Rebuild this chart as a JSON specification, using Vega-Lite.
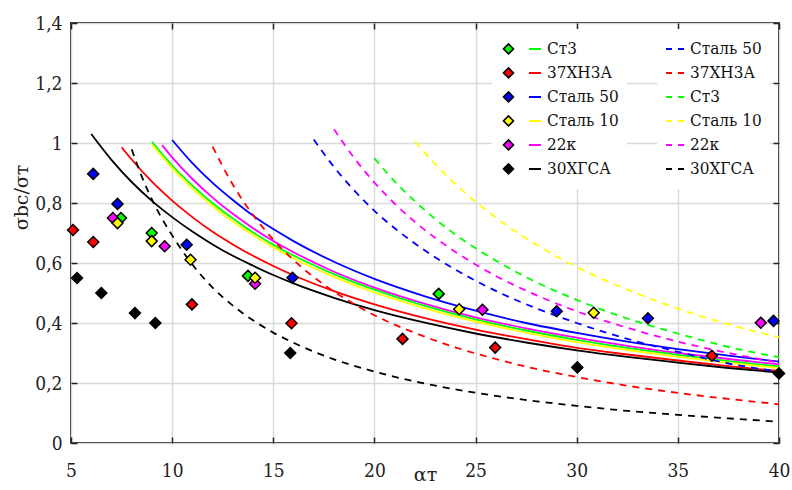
{
  "$schema": "https://vega.github.io/schema/vega-lite/v6.json",
  "width": 708,
  "height": 420,
  "autosize": {"type": "none"},
  "padding": {"left": 71, "top": 23, "right": 13, "bottom": 47},
  "background": "white",
  "config": {
    "font": "DejaVu Serif",
    "view": {"stroke": "#222222", "strokeWidth": 2},
    "axis": {
      "labelFont": "DejaVu Serif Condensed, DejaVu Serif", "labelFontSize": 19, "labelColor": "#222222",
      "titleFont": "DejaVu Serif", "titleFontSize": 19, "titleFontWeight": "normal", "titleColor": "#222222",
      "gridColor": "#dadada", "gridWidth": 1.5, "domain": false,
      "tickColor": "#222222", "tickWidth": 1.5, "labelFlush": false, "labelOverlap": false
    },
    "legend": {
      "labelFont": "DejaVu Serif Condensed, DejaVu Serif", "labelFontSize": 17, "labelColor": "#111111",
      "clipHeight": 23.8, "rowPadding": 0, "padding": 8, "fillColor": "white", "title": null
    }
  },
  "datasets": {
    "pts": [
      {"m": "Ст3", "a": 7.47, "s": 0.75}, {"m": "Ст3", "a": 8.99, "s": 0.70}, {"m": "Ст3", "a": 13.75, "s": 0.557}, {"m": "Ст3", "a": 23.18, "s": 0.497},
      {"m": "37ХН3А", "a": 5.1, "s": 0.71}, {"m": "37ХН3А", "a": 6.1, "s": 0.67}, {"m": "37ХН3А", "a": 10.98, "s": 0.462}, {"m": "37ХН3А", "a": 15.9, "s": 0.399}, {"m": "37ХН3А", "a": 21.39, "s": 0.347}, {"m": "37ХН3А", "a": 25.97, "s": 0.318}, {"m": "37ХН3А", "a": 36.68, "s": 0.291},
      {"m": "Сталь 50", "a": 6.1, "s": 0.897}, {"m": "Сталь 50", "a": 7.3, "s": 0.797}, {"m": "Сталь 50", "a": 10.72, "s": 0.661}, {"m": "Сталь 50", "a": 15.95, "s": 0.551}, {"m": "Сталь 50", "a": 29.01, "s": 0.439}, {"m": "Сталь 50", "a": 33.52, "s": 0.416}, {"m": "Сталь 50", "a": 39.73, "s": 0.407},
      {"m": "22к", "a": 7.07, "s": 0.75}, {"m": "22к", "a": 9.63, "s": 0.656}, {"m": "22к", "a": 14.1, "s": 0.531}, {"m": "22к", "a": 25.34, "s": 0.444}, {"m": "22к", "a": 39.1, "s": 0.401},
      {"m": "Сталь 10", "a": 7.3, "s": 0.733}, {"m": "Сталь 10", "a": 8.99, "s": 0.673}, {"m": "Сталь 10", "a": 10.91, "s": 0.611}, {"m": "Сталь 10", "a": 14.1, "s": 0.551}, {"m": "Сталь 10", "a": 24.19, "s": 0.446}, {"m": "Сталь 10", "a": 30.84, "s": 0.434},
      {"m": "30ХГСА", "a": 5.3, "s": 0.55}, {"m": "30ХГСА", "a": 6.5, "s": 0.5}, {"m": "30ХГСА", "a": 8.16, "s": 0.433}, {"m": "30ХГСА", "a": 9.17, "s": 0.4}, {"m": "30ХГСА", "a": 15.84, "s": 0.3}, {"m": "30ХГСА", "a": 30.03, "s": 0.252}, {"m": "30ХГСА", "a": 40.0, "s": 0.232}
    ],
    "sol": [
      {"c": "Сталь 50", "a": 10, "s": 1.01}, {"c": "Сталь 50", "a": 11, "s": 0.933}, {"c": "Сталь 50", "a": 12, "s": 0.867}, {"c": "Сталь 50", "a": 13, "s": 0.81}, {"c": "Сталь 50", "a": 14, "s": 0.758}, {"c": "Сталь 50", "a": 15, "s": 0.713}, {"c": "Сталь 50", "a": 16, "s": 0.673}, {"c": "Сталь 50", "a": 18, "s": 0.604}, {"c": "Сталь 50", "a": 20, "s": 0.547}, {"c": "Сталь 50", "a": 22.5, "s": 0.489}, {"c": "Сталь 50", "a": 25, "s": 0.441}, {"c": "Сталь 50", "a": 27.5, "s": 0.4}, {"c": "Сталь 50", "a": 30, "s": 0.367}, {"c": "Сталь 50", "a": 32.5, "s": 0.338}, {"c": "Сталь 50", "a": 35, "s": 0.313}, {"c": "Сталь 50", "a": 37.5, "s": 0.291}, {"c": "Сталь 50", "a": 40, "s": 0.271},
      {"c": "22к", "a": 9.5, "s": 0.993}, {"c": "22к", "a": 10, "s": 0.952}, {"c": "22к", "a": 11, "s": 0.88}, {"c": "22к", "a": 12, "s": 0.818}, {"c": "22к", "a": 13, "s": 0.764}, {"c": "22к", "a": 14, "s": 0.716}, {"c": "22к", "a": 15, "s": 0.673}, {"c": "22к", "a": 16, "s": 0.636}, {"c": "22к", "a": 18, "s": 0.571}, {"c": "22к", "a": 20, "s": 0.518}, {"c": "22к", "a": 22.5, "s": 0.464}, {"c": "22к", "a": 25, "s": 0.419}, {"c": "22к", "a": 27.5, "s": 0.382}, {"c": "22к", "a": 30, "s": 0.351}, {"c": "22к", "a": 32.5, "s": 0.324}, {"c": "22к", "a": 35, "s": 0.3}, {"c": "22к", "a": 37.5, "s": 0.28}, {"c": "22к", "a": 40, "s": 0.262},
      {"c": "Ст3", "a": 9, "s": 1.004}, {"c": "Ст3", "a": 10, "s": 0.925}, {"c": "Ст3", "a": 11, "s": 0.858}, {"c": "Ст3", "a": 12, "s": 0.799}, {"c": "Ст3", "a": 13, "s": 0.748}, {"c": "Ст3", "a": 14, "s": 0.702}, {"c": "Ст3", "a": 15, "s": 0.661}, {"c": "Ст3", "a": 16, "s": 0.625}, {"c": "Ст3", "a": 18, "s": 0.563}, {"c": "Ст3", "a": 20, "s": 0.511}, {"c": "Ст3", "a": 22.5, "s": 0.457}, {"c": "Ст3", "a": 25, "s": 0.412}, {"c": "Ст3", "a": 27.5, "s": 0.375}, {"c": "Ст3", "a": 30, "s": 0.344}, {"c": "Ст3", "a": 32.5, "s": 0.317}, {"c": "Ст3", "a": 35, "s": 0.294}, {"c": "Ст3", "a": 37.5, "s": 0.273}, {"c": "Ст3", "a": 40, "s": 0.255},
      {"c": "Сталь 10", "a": 9, "s": 0.995}, {"c": "Сталь 10", "a": 10, "s": 0.916}, {"c": "Сталь 10", "a": 11, "s": 0.848}, {"c": "Сталь 10", "a": 12, "s": 0.79}, {"c": "Сталь 10", "a": 13, "s": 0.738}, {"c": "Сталь 10", "a": 14, "s": 0.693}, {"c": "Сталь 10", "a": 15, "s": 0.652}, {"c": "Сталь 10", "a": 16, "s": 0.616}, {"c": "Сталь 10", "a": 18, "s": 0.554}, {"c": "Сталь 10", "a": 20, "s": 0.502}, {"c": "Сталь 10", "a": 22.5, "s": 0.449}, {"c": "Сталь 10", "a": 25, "s": 0.405}, {"c": "Сталь 10", "a": 27.5, "s": 0.368}, {"c": "Сталь 10", "a": 30, "s": 0.336}, {"c": "Сталь 10", "a": 32.5, "s": 0.31}, {"c": "Сталь 10", "a": 35, "s": 0.287}, {"c": "Сталь 10", "a": 37.5, "s": 0.267}, {"c": "Сталь 10", "a": 40, "s": 0.25},
      {"c": "37ХН3А", "a": 7.5, "s": 0.986}, {"c": "37ХН3А", "a": 8, "s": 0.945}, {"c": "37ХН3А", "a": 9, "s": 0.871}, {"c": "37ХН3А", "a": 10, "s": 0.808}, {"c": "37ХН3А", "a": 11, "s": 0.753}, {"c": "37ХН3А", "a": 12, "s": 0.704}, {"c": "37ХН3А", "a": 13, "s": 0.662}, {"c": "37ХН3А", "a": 14, "s": 0.624}, {"c": "37ХН3А", "a": 15, "s": 0.59}, {"c": "37ХН3А", "a": 16, "s": 0.559}, {"c": "37ХН3А", "a": 18, "s": 0.506}, {"c": "37ХН3А", "a": 20, "s": 0.462}, {"c": "37ХН3А", "a": 22.5, "s": 0.416}, {"c": "37ХН3А", "a": 25, "s": 0.378}, {"c": "37ХН3А", "a": 27.5, "s": 0.346}, {"c": "37ХН3А", "a": 30, "s": 0.317}, {"c": "37ХН3А", "a": 32.5, "s": 0.295}, {"c": "37ХН3А", "a": 35, "s": 0.275}, {"c": "37ХН3А", "a": 37.5, "s": 0.256}, {"c": "37ХН3А", "a": 40, "s": 0.24},
      {"c": "30ХГСА", "a": 6, "s": 1.03}, {"c": "30ХГСА", "a": 7, "s": 0.944}, {"c": "30ХГСА", "a": 8, "s": 0.87}, {"c": "30ХГСА", "a": 9, "s": 0.807}, {"c": "30ХГСА", "a": 10, "s": 0.753}, {"c": "30ХГСА", "a": 11, "s": 0.705}, {"c": "30ХГСА", "a": 12, "s": 0.662}, {"c": "30ХГСА", "a": 13, "s": 0.624}, {"c": "30ХГСА", "a": 14, "s": 0.591}, {"c": "30ХГСА", "a": 15, "s": 0.56}, {"c": "30ХГСА", "a": 16, "s": 0.532}, {"c": "30ХГСА", "a": 18, "s": 0.484}, {"c": "30ХГСА", "a": 20, "s": 0.443}, {"c": "30ХГСА", "a": 22.5, "s": 0.401}, {"c": "30ХГСА", "a": 25, "s": 0.365}, {"c": "30ХГСА", "a": 27.5, "s": 0.335}, {"c": "30ХГСА", "a": 30, "s": 0.309}, {"c": "30ХГСА", "a": 32.5, "s": 0.287}, {"c": "30ХГСА", "a": 35, "s": 0.268}, {"c": "30ХГСА", "a": 37.5, "s": 0.25}, {"c": "30ХГСА", "a": 40, "s": 0.235}
    ],
    "dsh": [
      {"d": "Сталь 50", "a": 17, "s": 1.012}, {"d": "Сталь 50", "a": 18, "s": 0.92}, {"d": "Сталь 50", "a": 19, "s": 0.842}, {"d": "Сталь 50", "a": 20, "s": 0.774}, {"d": "Сталь 50", "a": 21, "s": 0.716}, {"d": "Сталь 50", "a": 22, "s": 0.665}, {"d": "Сталь 50", "a": 23, "s": 0.619}, {"d": "Сталь 50", "a": 24, "s": 0.578}, {"d": "Сталь 50", "a": 25, "s": 0.541}, {"d": "Сталь 50", "a": 26, "s": 0.507}, {"d": "Сталь 50", "a": 28, "s": 0.449}, {"d": "Сталь 50", "a": 30, "s": 0.4}, {"d": "Сталь 50", "a": 32.5, "s": 0.347}, {"d": "Сталь 50", "a": 35, "s": 0.304}, {"d": "Сталь 50", "a": 37.5, "s": 0.265}, {"d": "Сталь 50", "a": 40, "s": 0.238},
      {"d": "37ХН3А", "a": 12, "s": 0.988}, {"d": "37ХН3А", "a": 13, "s": 0.861}, {"d": "37ХН3А", "a": 14, "s": 0.76}, {"d": "37ХН3А", "a": 15, "s": 0.678}, {"d": "37ХН3А", "a": 16, "s": 0.61}, {"d": "37ХН3А", "a": 17, "s": 0.553}, {"d": "37ХН3А", "a": 18, "s": 0.505}, {"d": "37ХН3А", "a": 19, "s": 0.463}, {"d": "37ХН3А", "a": 20, "s": 0.426}, {"d": "37ХН3А", "a": 22, "s": 0.367}, {"d": "37ХН3А", "a": 24, "s": 0.319}, {"d": "37ХН3А", "a": 26, "s": 0.28}, {"d": "37ХН3А", "a": 28, "s": 0.247}, {"d": "37ХН3А", "a": 30, "s": 0.22}, {"d": "37ХН3А", "a": 32.5, "s": 0.191}, {"d": "37ХН3А", "a": 35, "s": 0.167}, {"d": "37ХН3А", "a": 37.5, "s": 0.147}, {"d": "37ХН3А", "a": 40, "s": 0.129},
      {"d": "Ст3", "a": 20, "s": 0.949}, {"d": "Ст3", "a": 21, "s": 0.872}, {"d": "Ст3", "a": 22, "s": 0.806}, {"d": "Ст3", "a": 23, "s": 0.747}, {"d": "Ст3", "a": 24, "s": 0.695}, {"d": "Ст3", "a": 25, "s": 0.649}, {"d": "Ст3", "a": 26, "s": 0.608}, {"d": "Ст3", "a": 28, "s": 0.536}, {"d": "Ст3", "a": 30, "s": 0.477}, {"d": "Ст3", "a": 32.5, "s": 0.415}, {"d": "Ст3", "a": 35, "s": 0.365}, {"d": "Ст3", "a": 37.5, "s": 0.32}, {"d": "Ст3", "a": 40, "s": 0.286},
      {"d": "Сталь 10", "a": 22, "s": 1.005}, {"d": "Сталь 10", "a": 23, "s": 0.93}, {"d": "Сталь 10", "a": 24, "s": 0.863}, {"d": "Сталь 10", "a": 25, "s": 0.804}, {"d": "Сталь 10", "a": 26, "s": 0.752}, {"d": "Сталь 10", "a": 27, "s": 0.704}, {"d": "Сталь 10", "a": 28, "s": 0.661}, {"d": "Сталь 10", "a": 30, "s": 0.587}, {"d": "Сталь 10", "a": 32.5, "s": 0.511}, {"d": "Сталь 10", "a": 35, "s": 0.448}, {"d": "Сталь 10", "a": 37.5, "s": 0.396}, {"d": "Сталь 10", "a": 40, "s": 0.352},
      {"d": "22к", "a": 18, "s": 1.046}, {"d": "22к", "a": 19, "s": 0.95}, {"d": "22к", "a": 20, "s": 0.868}, {"d": "22к", "a": 21, "s": 0.798}, {"d": "22к", "a": 22, "s": 0.737}, {"d": "22к", "a": 23, "s": 0.684}, {"d": "22к", "a": 24, "s": 0.637}, {"d": "22к", "a": 25, "s": 0.595}, {"d": "22к", "a": 26, "s": 0.557}, {"d": "22к", "a": 28, "s": 0.493}, {"d": "22к", "a": 30, "s": 0.439}, {"d": "22к", "a": 32.5, "s": 0.384}, {"d": "22к", "a": 35, "s": 0.338}, {"d": "22к", "a": 37.5, "s": 0.3}, {"d": "22к", "a": 40, "s": 0.268},
      {"d": "30ХГСА", "a": 8, "s": 0.979}, {"d": "30ХГСА", "a": 8.5, "s": 0.888}, {"d": "30ХГСА", "a": 9, "s": 0.812}, {"d": "30ХГСА", "a": 10, "s": 0.692}, {"d": "30ХГСА", "a": 11, "s": 0.595}, {"d": "30ХГСА", "a": 12, "s": 0.518}, {"d": "30ХГСА", "a": 13, "s": 0.458}, {"d": "30ХГСА", "a": 14, "s": 0.409}, {"d": "30ХГСА", "a": 15, "s": 0.368}, {"d": "30ХГСА", "a": 16, "s": 0.334}, {"d": "30ХГСА", "a": 18, "s": 0.279}, {"d": "30ХГСА", "a": 20, "s": 0.238}, {"d": "30ХГСА", "a": 22, "s": 0.205}, {"d": "30ХГСА", "a": 24, "s": 0.179}, {"d": "30ХГСА", "a": 26, "s": 0.157}, {"d": "30ХГСА", "a": 28, "s": 0.139}, {"d": "30ХГСА", "a": 30, "s": 0.124}, {"d": "30ХГСА", "a": 32.5, "s": 0.107}, {"d": "30ХГСА", "a": 35, "s": 0.094}, {"d": "30ХГСА", "a": 37.5, "s": 0.082}, {"d": "30ХГСА", "a": 40, "s": 0.071}
    ]
  },
  "layer": [
    {
      "data": {"name": "sol"},
      "mark": {"type": "line", "strokeWidth": 1.8, "interpolate": "monotone"},
      "encoding": {
        "x": {"field": "a", "type": "quantitative", "scale": {"domain": [5, 40], "nice": false},
          "axis": {"title": "αт", "values": [5, 10, 15, 20, 25, 30, 35, 40], "tickSize": -6, "labelPadding": 24, "titleY": 31, "titleBaseline": "middle"}},
        "y": {"field": "s", "type": "quantitative", "scale": {"domain": [0, 1.4], "nice": false},
          "axis": {"title": "σbc/σт", "values": [0, 0.2, 0.4, 0.6, 0.8, 1, 1.2, 1.4], "tickSize": -6, "labelPadding": 15,
            "labelExpr": "replace(toString(datum.value), '.', ',')", "titleX": -50, "titleY": 174, "titleBaseline": "middle", "titleAngle": -90}},
        "stroke": {"field": "c", "type": "nominal",
          "scale": {"domain": ["Ст3", "37ХН3А", "Сталь 50", "Сталь 10", "22к", "30ХГСА"], "range": ["#00ff00", "#ff0000", "#0000ff", "#ffff00", "#ff00ff", "#000000"]},
          "legend": {"orient": "none", "legendX": 443, "legendY": 6, "symbolType": "stroke", "symbolSize": 324, "symbolStrokeWidth": 2, "labelOffset": 5}}
      }
    },
    {
      "data": {"name": "dsh"},
      "mark": {"type": "line", "strokeWidth": 1.8, "strokeDash": [7, 6], "interpolate": "monotone"},
      "encoding": {
        "x": {"field": "a", "type": "quantitative", "scale": {"domain": [5, 40], "nice": false},
          "axis": {"orient": "top", "labels": false, "grid": false, "title": null, "values": [5, 10, 15, 20, 25, 30, 35, 40], "tickSize": -6}},
        "y": {"field": "s", "type": "quantitative", "scale": {"domain": [0, 1.4], "nice": false},
          "axis": {"orient": "right", "labels": false, "grid": false, "title": null, "values": [0, 0.2, 0.4, 0.6, 0.8, 1, 1.2, 1.4], "tickSize": -6}},
        "color": {"field": "d", "type": "nominal",
          "scale": {"domain": ["Сталь 50", "37ХН3А", "Ст3", "Сталь 10", "22к", "30ХГСА"], "range": ["#0000ff", "#ff0000", "#00ff00", "#ffff00", "#ff00ff", "#000000"]},
          "legend": {"orient": "none", "legendX": 586, "legendY": 6, "symbolType": "stroke", "symbolSize": 324, "symbolStrokeWidth": 2, "symbolDash": [6, 6], "labelOffset": 5}}
      }
    },
    {
      "data": {"name": "pts"},
      "mark": {"type": "point", "shape": "diamond", "filled": true, "size": 120, "stroke": "black", "strokeWidth": 1.5, "opacity": 1},
      "encoding": {
        "x": {"field": "a", "type": "quantitative", "scale": {"domain": [5, 40], "nice": false}, "axis": null},
        "y": {"field": "s", "type": "quantitative", "scale": {"domain": [0, 1.4], "nice": false}, "axis": null},
        "fill": {"field": "m", "type": "nominal",
          "scale": {"domain": ["Ст3", "37ХН3А", "Сталь 50", "Сталь 10", "22к", "30ХГСА"], "range": ["#00ff00", "#ff0000", "#0000ff", "#ffff00", "#ff00ff", "#000000"]},
          "legend": {"orient": "none", "legendX": 421, "legendY": 6, "symbolType": "diamond", "symbolSize": 100, "symbolStrokeColor": "black", "symbolStrokeWidth": 1.5, "symbolOpacity": 1, "labelExpr": "''"}}
      }
    }
  ],
  "resolve": {
    "scale": {"fill": "independent", "stroke": "independent", "color": "independent"},
    "legend": {"fill": "independent", "stroke": "independent", "color": "independent"},
    "axis": {"x": "independent", "y": "independent"}
  }
}
